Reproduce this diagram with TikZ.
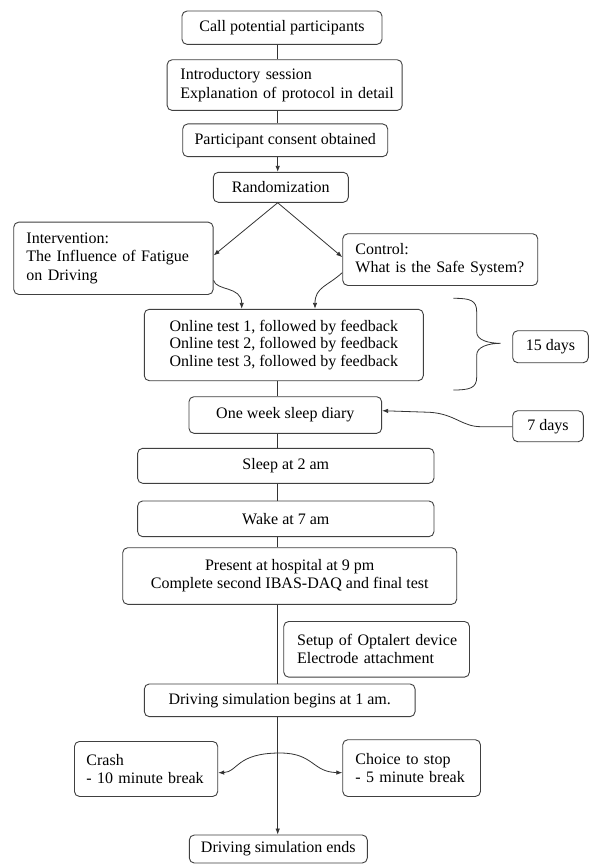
\documentclass[tikz,border=0pt]{standalone}
\usepackage{fontspec}
\setmainfont{Liberation Serif}
\usetikzlibrary{arrows.meta}
\begin{document}
\begin{tikzpicture}[x=1pt,y=-1pt,
  box/.style={draw=black!75, line width=0.9pt, rounded corners=5pt, inner sep=0pt,
    font=\fontsize{16}{18.2}\selectfont, align=center, text=black},
  lbox/.style={box, align=left, anchor=north west},
  conn/.style={draw=black!80, line width=0.8pt},
  arr/.style={conn, -{Latex[length=6pt,width=4.5pt]}},
  darr/.style={conn, {Latex[length=6pt,width=4.5pt]}-{Latex[length=6pt,width=4.5pt]}}]
\useasboundingbox (0,0) rectangle (590,864);
\fill[white] (0,0) rectangle (590,864);
\coordinate (sp) at (277.7,0);

% boxes
\node[box, minimum width=200pt, minimum height=33.3pt] (call) at (282,27.7) {Call potential participants};
\node[lbox, minimum height=50.7pt, text width=208.4pt, inner xsep=13.3pt] (intro) at (166.7,59.3)
  {\mbox{Introductory session}\\\mbox{Explanation of protocol in detail}};
\node[box, minimum width=205pt, minimum height=32.7pt] (consent) at (285.2,140.3) {Participant consent obtained};
\node[box, minimum width=135pt, minimum height=30pt] (rand) at (280.8,187.3) {Randomization};
\node[lbox, minimum height=72.3pt, text width=174pt, inner xsep=12.7pt] (interv) at (13.3,221.7)
  {\mbox{Intervention:}\\\mbox{The Influence of Fatigue}\\\mbox{on Driving}};
\node[lbox, minimum height=51.7pt, text width=169.6pt, inner xsep=12.7pt] (control) at (342.3,233.3)
  {\mbox{Control:}\\\mbox{What is the Safe System?}};
\node[box, minimum width=279pt, minimum height=71.4pt, font=\fontsize{16}{17.8}\selectfont] (online) at (283.8,345)
  {Online test 1, followed by feedback\\Online test 2, followed by feedback\\Online test 3, followed by feedback};
\node[box, minimum width=75.6pt, minimum height=32pt] (d15) at (550.5,346.7) {15 days};
\node[box, minimum width=192.7pt, minimum height=36.6pt] (diary) at (285.3,415) {One week sleep diary};
\node[box, minimum width=70.6pt, minimum height=31pt] (d7) at (548,426.2) {7 days};
\node[box, minimum width=296.3pt, minimum height=35pt] (sleep) at (285.8,465.8) {Sleep at 2 am};
\node[box, minimum width=296.3pt, minimum height=35.7pt] (wake) at (285.8,518.8) {Wake at 7 am};
\node[box, minimum width=334pt, minimum height=56.6pt] (present) at (289.7,576)
  {Present at hospital at 9 pm\\Complete second IBAS-DAQ and final test};
\node[lbox, minimum height=55.7pt, text width=158.9pt, inner xsep=13.4pt] (setup) at (283.3,621)
  {\mbox{Setup of Optalert device}\\\mbox{Electrode attachment}};
\node[box, minimum width=270.7pt, minimum height=32.7pt] (begins) at (279.7,700.3) {Driving simulation begins at 1 am.};
\node[lbox, minimum height=55pt, text width=119.3pt, inner xsep=12pt] (crash) at (74,741)
  {\mbox{Crash}\\\mbox{- 10 minute break}};
\node[lbox, minimum height=56.7pt, text width=112.3pt, inner xsep=12.7pt] (choice) at (342.3,739.3)
  {\mbox{Choice to stop}\\\mbox{- 5 minute break}};
\node[box, minimum width=178pt, minimum height=28pt] (ends) at (278.3,849) {Driving simulation ends};

% spine connectors
\draw[conn] (call.south -| sp) -- (intro.north -| sp);
\draw[conn] (intro.south -| sp) -- (consent.north -| sp);
\draw[arr] (consent.south -| sp) -- (rand.north -| sp);
\draw[arr] (rand.south -| sp) -- ([yshift=2.85pt]interv.east);
\draw[arr] (rand.south -| sp) -- ([yshift=2.45pt]control.west);
\draw[arr] ([yshift=-22pt]interv.east) .. controls (216,291) and (241.7,286) .. (online.north -| 241.7,0);
\draw[arr] ([yshift=-13pt]control.west) .. controls (328,286) and (315,287) .. (online.north -| 315,0);
\draw[conn] (online.south -| sp) -- (diary.north -| sp);
\draw[conn] (diary.south -| sp) -- (sleep.north -| sp);
\draw[conn] (sleep.south -| sp) -- (wake.north -| sp);
\draw[conn] (wake.south -| sp) -- (present.north -| sp);
\draw[conn] (present.south -| sp) -- (begins.north -| sp);
\draw[arr] (begins.south -| sp) -- (ends.north -| sp);

% brace
\draw[conn] (453.3,298.3) .. controls (470,298.3) and (476.7,300) .. (476.7,312)
  -- (476.7,332) .. controls (476.7,340) and (488,343.3) .. (500.7,343.3)
  .. controls (488,343.3) and (476.7,347) .. (476.7,355)
  -- (476.7,377) .. controls (476.7,388) and (470,390) .. (453.3,390);

% 7 days arrow
\draw[arr] ([yshift=-0.5pt]d7.west) -- (481,426.7) .. controls (462,426.7) and (455,414) .. (430,412.3)
  -- ([yshift=4.3pt]diary.east);

% break arrows
\draw[darr] ([yshift=-3.8pt]crash.east) .. controls (238,772) and (236,753) .. (280,753)
  .. controls (314,753) and (312,772) .. ([yshift=-4.6pt]choice.west);
\end{tikzpicture}
\end{document}
